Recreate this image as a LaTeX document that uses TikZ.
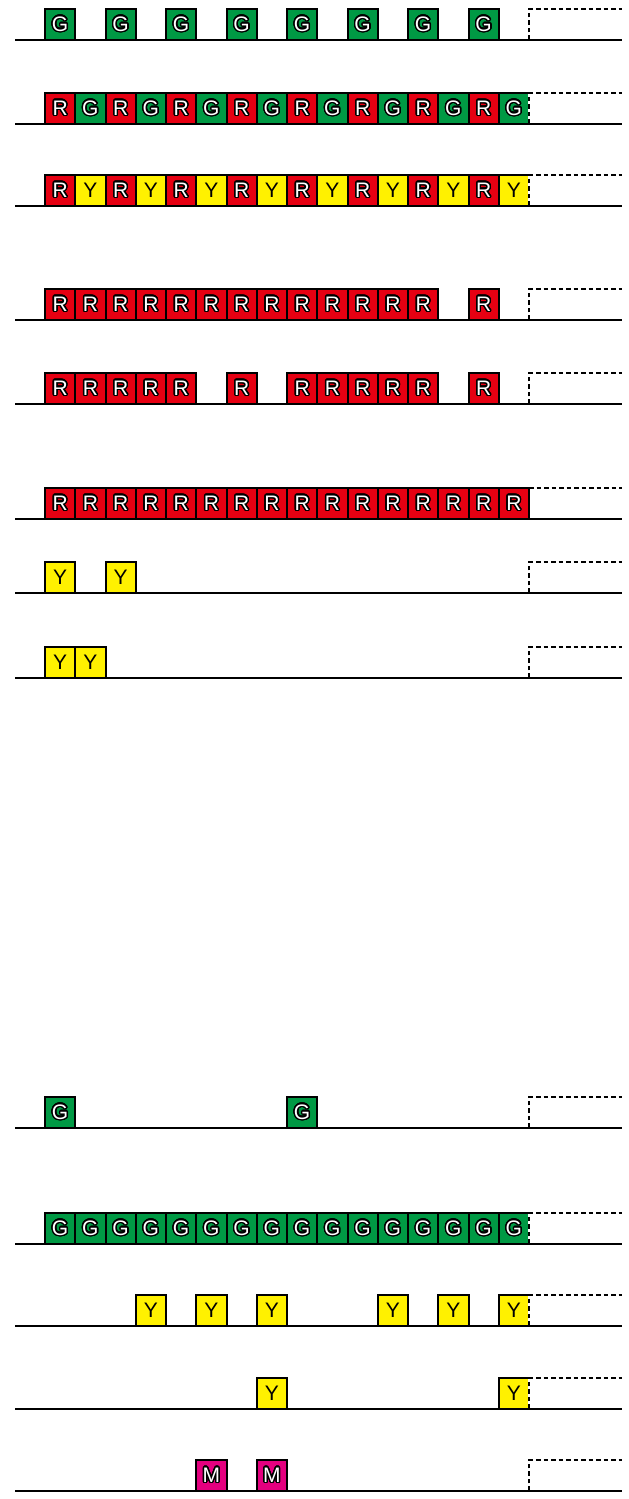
\documentclass[tikz,border=0pt]{standalone}
\usepackage{fontspec}
\setmainfont{Liberation Sans}
\usepackage{contour}
\contourlength{1.4pt}
\contournumber{24}
\usetikzlibrary{positioning}
\definecolor{siggreen}{HTML}{009944}
\definecolor{sigred}{HTML}{E60012}
\definecolor{sigyellow}{HTML}{FFF100}
\definecolor{sigmagenta}{HTML}{E4007F}
\newcommand{\slot}{30.25}

\begin{document}
\begin{tikzpicture}[
  x=1pt, y=1pt,
  sigbox/.style={draw=black, line width=2pt, minimum width=30.25pt, minimum height=30.5pt,
                 inner sep=0pt, outer sep=0pt, anchor=south west, font=\fontsize{21}{21}\selectfont},
  sig G/.style={sigbox, fill=siggreen, text=white, node contents={\contour{black}{G}}},
  sig R/.style={sigbox, fill=sigred, text=white, node contents={\contour{black}{R}}},
  sig M/.style={sigbox, fill=sigmagenta, text=white, node contents={\contour{black}{M}}},
  sig Y/.style={sigbox, fill=sigyellow, text=black, node contents={Y}},
  track/.style={line width=2.2pt, draw=black},
  open/.style={line width=2pt, dash pattern=on 4.5pt off 3pt,
               preaction={draw=white, solid, line width=2pt}}
]
  \useasboundingbox (0,0) rectangle (629,1499);

  % tracks
  \foreach \row/\yb in {a/1459,b/1375,c/1293,d/1179,e/1095,f/980,g/906,h/821,
                        i/371,j/255,k/173,l/90,m/8} {
    \coordinate (\row-start) at (15,\yb);
    \coordinate (\row-end) at (622,\yb);
    \draw[track] (\row-start) -- (\row-end);
  }

  % aspects
  \foreach \i in {0,2,...,14}
    \node[sig G, name=a\i, at={(45+\slot*\i,1459)}];
  \foreach \i/\c in {0/R,1/G,2/R,3/G,4/R,5/G,6/R,7/G,8/R,9/G,10/R,11/G,12/R,13/G,14/R,15/G}
    \node[sig \c, name=b\i, at={(45+\slot*\i,1375)}];
  \foreach \i/\c in {0/R,1/Y,2/R,3/Y,4/R,5/Y,6/R,7/Y,8/R,9/Y,10/R,11/Y,12/R,13/Y,14/R,15/Y}
    \node[sig \c, name=c\i, at={(45+\slot*\i,1293)}];
  \foreach \i in {0,...,12,14}
    \node[sig R, name=d\i, at={(45+\slot*\i,1179)}];
  \foreach \i in {0,...,4,6,8,9,10,11,12,14}
    \node[sig R, name=e\i, at={(45+\slot*\i,1095)}];
  \foreach \i in {0,...,15}
    \node[sig R, name=f\i, at={(45+\slot*\i,980)}];
  \foreach \i in {0,2}
    \node[sig Y, name=g\i, at={(45+\slot*\i,906)}];
  \foreach \i in {0,1}
    \node[sig Y, name=h\i, at={(45+\slot*\i,821)}];
  \foreach \i in {0,8}
    \node[sig G, name=i\i, at={(45+\slot*\i,371)}];
  \foreach \i in {0,...,15}
    \node[sig G, name=j\i, at={(45+\slot*\i,255)}];
  \foreach \i in {3,5,7,11,13,15}
    \node[sig Y, name=k\i, at={(45+\slot*\i,173)}];
  \foreach \i in {7,15}
    \node[sig Y, name=l\i, at={(45+\slot*\i,90)}];
  \foreach \i in {5,7}
    \node[sig M, name=m\i, at={(45+\slot*\i,8)}];

  % open ends
  \foreach \row/\yb in {a/1459,b/1375,c/1293,d/1179,e/1095,g/906,h/821,
                        i/371,j/255,k/173,l/90,m/8}
    \draw[open] (45+\slot*16,\yb) -- ++(0,30.5) -- ([yshift=30.5pt]\row-end);
  \draw[open] (f15.north east) -- (f15.north east -| f-end);
\end{tikzpicture}
\end{document}
